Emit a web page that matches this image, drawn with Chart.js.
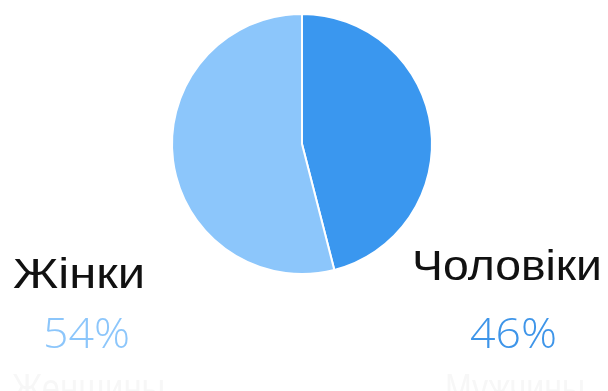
<!DOCTYPE html>
<html>
<head>
<meta charset="utf-8">
<script src="https://cdn.jsdelivr.net/npm/chart.js@4/dist/chart.umd.min.js"></script>
<style>
  html, body { margin: 0; padding: 0; background: #fff; }
  #wrap { width: 608px; height: 391px; position: relative; }
</style>
</head>
<body>
<div id="wrap"><canvas id="genderChart"></canvas></div>
<script>
const categories = ["Чоловіки", "Жінки"];
const subtitles = ["Мужчины", "Женщины"];
const shares = [46, 54];
const sliceColors = ["#3a97ef", "#8cc6fb"];
const percentColors = ["#3e95e9", "#8cc6fb"];

// caption block per category: x, baseline and drawn width of each line
const captionPlaces = [
    { name: [412, 280, 190], pct: [470, 348, 87], sub: [445, 402, 140] },
    { name: [13, 288, 132], pct: [43, 348, 87], sub: [12, 402, 153] }
];

// draws text stretched horizontally to a fixed width
function fitText(ctx, text, [x, y, w]) {
    const natural = ctx.measureText(text).width;
    ctx.save();
    ctx.translate(x, y);
    ctx.scale(w / natural, 1);
    ctx.fillText(text, 0, 0);
    ctx.restore();
}

const captions = {
    id: "captions",
    afterDraw(chart) {
        const ctx = chart.ctx;
        ctx.save();
        ctx.textAlign = "left";
        ctx.textBaseline = "alphabetic";
        categories.forEach((name, i) => {
            const p = captionPlaces[i];
            ctx.fillStyle = "#111";
            ctx.font = "400 43px 'Liberation Sans'";
            fitText(ctx, name, p.name);

            ctx.fillStyle = percentColors[i];
            ctx.font = "300 43px 'Open Sans'";
            fitText(ctx, shares[i] + "%", p.pct);

            ctx.fillStyle = "#f7f7f7";
            ctx.font = "400 40px 'Liberation Sans'";
            fitText(ctx, subtitles[i], p.sub);
        });
        ctx.restore();
    }
};

new Chart(document.getElementById("genderChart"), {
    type: "pie",
    data: {
        labels: categories,
        datasets: [{
            data: shares,
            backgroundColor: sliceColors,
            borderColor: "#fff",
            borderWidth: 2
        }]
    },
    options: {
        responsive: true,
        maintainAspectRatio: false,
        animation: false,
        layout: { padding: { top: 13, bottom: 116, left: 171, right: 175 } },
        plugins: {
            legend: { display: false },
            tooltip: { enabled: false }
        }
    },
    plugins: [captions]
});
</script>
</body>
</html>
